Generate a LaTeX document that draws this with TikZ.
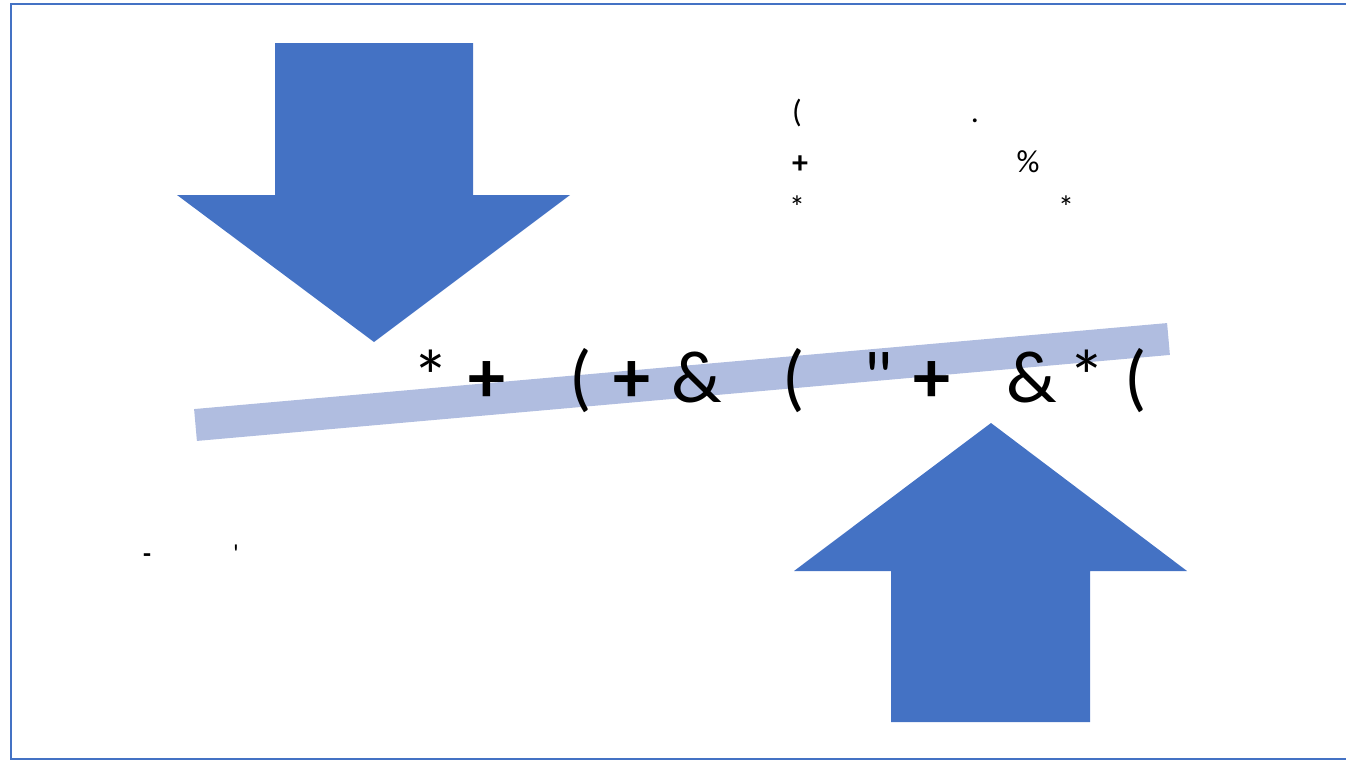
\documentclass[tikz,border=0pt]{standalone}
\usepackage{fontspec}
\setmainfont{Carlito}[Ligatures=TeXOff]
\definecolor{arrowblue}{RGB}{68,114,196}
\definecolor{barblue}{RGB}{176,189,224}
\begin{document}
\begin{tikzpicture}[
  x=0.5pt, y=-0.5pt,
  blockarrow/.style={fill=arrowblue,draw=none},
  tiltbar/.style={draw=barblue,line width=16pt},
  bigglyph/.style={font=\fontsize{37}{44}\selectfont,inner sep=0pt,anchor=base},
  noteglyph/.style={font=\fontsize{16}{19}\selectfont,inner sep=0pt,anchor=base},
  smallglyph/.style={font=\fontsize{13}{15}\selectfont,inner sep=0pt,anchor=base},
]
\useasboundingbox (0,0) rectangle (1346,761);

% ---- Frame
\draw[arrowblue,line width=1.2pt] (11,4) rectangle (1360,759);

% ---- Block arrows (down, left / up, right)
\fill[blockarrow] (275,43) -- (473,43) -- (473,195) -- (570,195) -- (374,342)
  -- (177,195) -- (275,195) -- cycle;
\fill[blockarrow] (891,722) -- (1090,722) -- (1090,571) -- (1187,571) -- (991,423)
  -- (794,571) -- (891,571) -- cycle;

% ---- Tilted bar
\coordinate (barL) at (195.5,425);
\coordinate (barR) at (1168.5,339);
\draw[tiltbar] (barL) -- (barR);

% ---- Large line of glyphs
\node[bigglyph] (g1)  at (431,402) {*};
\node[bigglyph] (g2)  at (487,402) {\textbf{+}};
\node[bigglyph] (g3)  at (581,402) {(};
\node[bigglyph] (g4)  at (632,402) {\textbf{+}};
\node[bigglyph] (g5)  at (697,402) {\&};
\node[bigglyph] (g6)  at (794,402) {(};
\node[bigglyph] (g7)  at (878,402) {"};
\node[bigglyph] (g8)  at (932,402) {\textbf{+}};
\node[bigglyph] (g9)  at (1032,402) {\&};
\node[bigglyph] (g10) at (1087,402) {*};
\node[bigglyph] (g11) at (1136,402) {(};

% ---- Notes (top right)
\node[noteglyph] (n1) at (797,122) {(};
\node[noteglyph] (n2) at (975,122) {.};
\node[noteglyph] (n3) at (800,173) {\textbf{+}};
\node[noteglyph] (n4) at (1028,172) {\%};
\node[noteglyph] (n5) at (797,218) {*};
\node[noteglyph] (n6) at (1066,218) {*};

% ---- Notes (bottom left)
\node[smallglyph] (s1) at (147,562) {\textbf{-}};
\node[smallglyph] (s2) at (236,562) {'};

\end{tikzpicture}
\end{document}
